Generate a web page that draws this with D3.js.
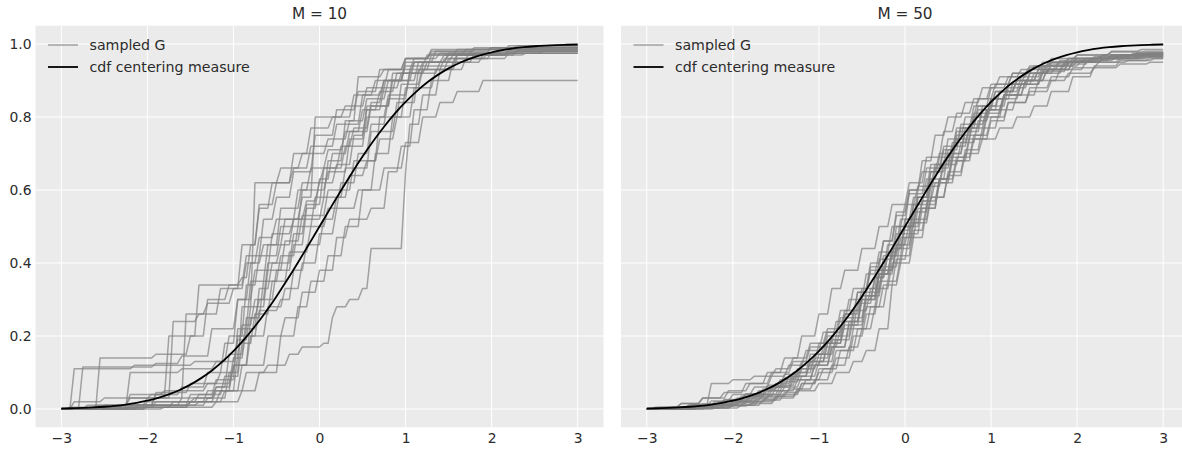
<!DOCTYPE html>
<html>
<head>
<meta charset="utf-8">
<script src="https://cdn.jsdelivr.net/npm/d3@7"></script>
<style>
  html, body { margin: 0; padding: 0; background: #ffffff; }
  svg { display: block; font-family: "DejaVu Sans", sans-serif; }
</style>
</head>
<body>
<svg id="chart" width="1182" height="450"></svg>
<script>
// ---------------- data ----------------
const panelTitles = ["M = 10", "M = 50"];
const xTicks = [-3, -2, -1, 0, 1, 2, 3];
const yTicks = [0.0, 0.2, 0.4, 0.6, 0.8, 1.0];
const legendLabels = ["sampled G", "cdf centering measure"];

// cdf of the centering measure (standard normal), read at x = -3 .. 3
const cdfX = [-3, -2.875, -2.75, -2.625, -2.5, -2.375, -2.25, -2.125, -2, -1.875, -1.75, -1.625, -1.5, -1.375, -1.25, -1.125,
  -1, -0.875, -0.75, -0.625, -0.5, -0.375, -0.25, -0.125, 0, 0.125, 0.25, 0.375, 0.5, 0.625, 0.75, 0.875,
  1, 1.125, 1.25, 1.375, 1.5, 1.625, 1.75, 1.875, 2, 2.125, 2.25, 2.375, 2.5, 2.625, 2.75, 2.875, 3];
const cdfY = [0.00135, 0.00202, 0.00298, 0.00433, 0.00621, 0.00877, 0.01222, 0.01679, 0.02275, 0.0304, 0.04006, 0.05208, 0.06681, 0.08459, 0.10565, 0.13029,
  0.15866, 0.19079, 0.22663, 0.26599, 0.30854, 0.35383, 0.40129, 0.45026, 0.5, 0.54974, 0.59871, 0.64617, 0.69146, 0.73401, 0.77337, 0.80921,
  0.84134, 0.86971, 0.89435, 0.91541, 0.93319, 0.94792, 0.95994, 0.9696, 0.97725, 0.98321, 0.98778, 0.99123, 0.99379, 0.99567, 0.99702, 0.99798, 0.99865];

// sampled G, M = 10 : [jump location, cumulative value after the jump]
const samplesM10 = [
  [[-2.88,0.11],[-2.15,0.12],[-1.45,0.13],[-1.05,0.2],[-0.85,0.34],[-0.7,0.42],[-0.45,0.5],[-0.2,0.6],[0.1,0.65],[0.35,0.74],[0.55,0.83],[0.85,0.92],[1.1,0.95],[1.45,0.97],[2.1,0.985],[2.5,0.99]],
  [[-2.78,0.115],[-1.9,0.125],[-1.6,0.145],[-1.25,0.22],[-0.95,0.3],[-0.78,0.38],[-0.55,0.48],[-0.3,0.52],[0.05,0.58],[0.3,0.66],[0.6,0.76],[0.9,0.84],[1.15,0.93],[1.5,0.96],[1.95,0.975],[2.6,0.98]],
  [[-2.58,0.14],[-1.9,0.15],[-1.5,0.2],[-1.3,0.3],[-1.05,0.34],[-0.85,0.42],[-0.65,0.52],[-0.5,0.58],[-0.3,0.65],[-0.05,0.75],[0.2,0.82],[0.45,0.87],[0.7,0.93],[1.0,0.96],[1.3,0.985],[2.0,0.99]],
  [[-2.9,0.005],[-2.22,0.1],[-1.6,0.11],[-1.2,0.13],[-0.95,0.19],[-0.8,0.28],[-0.62,0.38],[-0.4,0.46],[-0.2,0.53],[0.1,0.6],[0.4,0.68],[0.7,0.8],[0.95,0.89],[1.2,0.94],[1.6,0.97],[2.2,0.985]],
  [[-2.4,0.01],[-2.0,0.03],[-1.73,0.24],[-1.4,0.26],[-1.15,0.33],[-0.9,0.45],[-0.7,0.55],[-0.55,0.62],[-0.3,0.7],[-0.1,0.77],[0.15,0.8],[0.4,0.86],[0.65,0.9],[1.0,0.96],[1.3,0.98],[1.8,0.99],[2.3,0.995]],
  [[-2.6,0.01],[-2.2,0.03],[-1.58,0.26],[-1.3,0.29],[-1.0,0.33],[-0.85,0.4],[-0.65,0.45],[-0.45,0.55],[-0.2,0.62],[0.05,0.66],[0.3,0.72],[0.55,0.8],[0.8,0.86],[1.05,0.92],[1.4,0.95],[1.8,0.975],[2.4,0.985]],
  [[-2.5,0.01],[-1.9,0.04],[-1.75,0.2],[-1.42,0.34],[-0.93,0.36],[-0.8,0.45],[-0.7,0.56],[-0.5,0.62],[-0.3,0.66],[-0.1,0.72],[0.2,0.78],[0.5,0.86],[0.75,0.9],[1.1,0.95],[1.5,0.97],[2.2,0.98]],
  [[-2.0,0.01],[-1.4,0.02],[-1.1,0.05],[-0.85,0.1],[-0.6,0.12],[-0.35,0.15],[-0.2,0.17],[0.05,0.18],[0.12,0.25],[0.2,0.28],[0.35,0.3],[0.5,0.33],[0.59,0.44],[0.96,0.65],[1.05,0.78],[1.2,0.86],[1.4,0.93],[1.7,0.96],[2.2,0.975]],
  [[-2.3,0.01],[-1.5,0.04],[-1.2,0.08],[-0.95,0.22],[-0.8,0.35],[-0.6,0.45],[-0.4,0.52],[-0.2,0.58],[-0.05,0.8],[0.3,0.83],[0.55,0.88],[0.8,0.93],[1.1,0.96],[1.4,0.975],[2.0,0.99],[2.6,0.995]],
  [[-2.1,0.01],[-1.3,0.03],[-1.05,0.1],[-0.9,0.28],[-0.75,0.62],[-0.45,0.66],[-0.2,0.7],[0.1,0.74],[0.35,0.79],[0.55,0.85],[0.8,0.9],[1.0,0.94],[1.25,0.97],[1.6,0.985],[2.2,0.995]],
  [[-2.2,0.01],[-1.6,0.03],[-1.2,0.06],[-1.0,0.12],[-0.82,0.25],[-0.65,0.35],[-0.45,0.42],[-0.25,0.5],[-0.05,0.58],[0.1,0.68],[0.3,0.79],[0.43,0.91],[0.72,0.93],[1.0,0.96],[1.3,0.975],[1.8,0.985]],
  [[-2.0,0.005],[-1.5,0.02],[-1.2,0.05],[-0.98,0.15],[-0.85,0.25],[-0.7,0.3],[-0.5,0.38],[-0.3,0.45],[-0.15,0.55],[0.0,0.63],[0.15,0.7],[0.35,0.76],[0.6,0.83],[0.85,0.9],[1.15,0.95],[1.5,0.975],[2.1,0.99]],
  [[-2.4,0.005],[-1.7,0.02],[-1.3,0.05],[-1.0,0.12],[-0.8,0.2],[-0.6,0.28],[-0.4,0.33],[-0.2,0.4],[0.0,0.48],[0.2,0.55],[0.45,0.6],[0.75,0.66],[1.0,0.73],[1.2,0.8],[1.4,0.84],[1.6,0.87],[1.88,0.9]],
  [[-1.8,0.005],[-1.2,0.02],[-0.9,0.05],[-0.7,0.1],[-0.45,0.2],[-0.25,0.28],[-0.1,0.35],[0.1,0.42],[0.3,0.5],[0.5,0.6],[0.65,0.7],[0.85,0.8],[1.0,0.88],[1.2,0.93],[1.45,0.96],[1.75,0.975],[2.3,0.98]],
  [[-2.5,0.005],[-1.9,0.02],[-1.4,0.04],[-1.1,0.09],[-0.9,0.18],[-0.75,0.26],[-0.55,0.35],[-0.35,0.43],[-0.1,0.5],[0.1,0.55],[0.25,0.62],[0.45,0.7],[0.6,0.78],[0.8,0.85],[1.05,0.93],[1.3,0.97],[1.7,0.985],[2.5,0.99]],
  [[-2.2,0.005],[-1.5,0.02],[-1.15,0.05],[-0.9,0.12],[-0.6,0.2],[-0.4,0.25],[-0.2,0.32],[0.0,0.38],[0.2,0.47],[0.35,0.52],[0.6,0.55],[0.8,0.65],[0.95,0.72],[1.1,0.82],[1.3,0.9],[1.55,0.95],[1.9,0.97],[2.4,0.975]],
  [[-2.7,0.01],[-2.2,0.04],[-1.8,0.05],[-1.3,0.07],[-1.0,0.14],[-0.85,0.22],[-0.7,0.33],[-0.55,0.4],[-0.3,0.48],[-0.15,0.56],[0.05,0.66],[0.25,0.72],[0.4,0.77],[0.6,0.84],[0.75,0.9],[1.0,0.95],[1.35,0.98],[2.0,0.99]],
  [[-2.3,0.01],[-1.9,0.045],[-1.5,0.07],[-1.15,0.1],[-0.95,0.2],[-0.7,0.27],[-0.45,0.3],[-0.3,0.38],[-0.15,0.45],[0.05,0.52],[0.2,0.58],[0.35,0.64],[0.55,0.68],[0.7,0.74],[0.9,0.8],[1.1,0.88],[1.35,0.93],[1.6,0.96],[2.0,0.975]],
  [[-2.6,0.005],[-2.0,0.02],[-1.45,0.03],[-1.2,0.06],[-1.05,0.15],[-0.9,0.23],[-0.75,0.3],[-0.6,0.4],[-0.45,0.45],[-0.3,0.52],[-0.15,0.57],[0.0,0.62],[0.2,0.67],[0.4,0.75],[0.55,0.82],[0.75,0.88],[0.95,0.92],[1.2,0.95],[1.6,0.97],[2.1,0.98]],
  [[-2.85,0.02],[-2.5,0.03],[-1.95,0.04],[-1.6,0.06],[-1.3,0.1],[-1.1,0.18],[-0.95,0.3],[-0.82,0.4],[-0.7,0.47],[-0.5,0.52],[-0.25,0.6],[-0.1,0.66],[0.1,0.71],[0.3,0.76],[0.5,0.82],[0.7,0.87],[0.9,0.92],[1.25,0.95],[1.55,0.97],[2.3,0.98]]
];

// sampled G, M = 50 : [jump location, cumulative value after the jump]
const samplesM50 = [
  [[-2.75,.004],[-2.45,.012],[-2.2,.02],[-1.95,.03],[-1.7,.05],[-1.5,.07],[-1.3,.1],[-1.1,.15],[-0.9,.2],[-0.75,.25],[-0.55,.32],[-0.4,.38],[-0.2,.45],[-0.05,.52],[0.1,.58],[0.3,.65],[0.5,.71],[0.65,.77],[0.85,.82],[1.05,.87],[1.3,.9],[1.55,.93],[1.8,.95],[2.1,.96],[2.5,.97]],
  [[-2.5,.003],[-2.1,.008],[-1.8,.015],[-1.5,.03],[-1.25,.05],[-1.0,.07],[-0.8,.1],[-0.6,.13],[-0.45,.16],[-0.3,.22],[-0.15,.34],[-0.05,.4],[0.1,.47],[0.25,.55],[0.4,.63],[0.55,.7],[0.7,.76],[0.9,.82],[1.1,.87],[1.35,.91],[1.6,.94],[1.9,.96],[2.3,.97],[2.7,.975]],
  [[-2.85,.005],[-2.6,.015],[-2.35,.03],[-2.1,.045],[-1.85,.07],[-1.6,.1],[-1.4,.14],[-1.2,.2],[-1.0,.26],[-0.85,.33],[-0.7,.38],[-0.5,.44],[-0.3,.5],[-0.15,.56],[0.05,.62],[0.25,.69],[0.45,.76],[0.6,.81],[0.8,.85],[1.0,.89],[1.25,.92],[1.5,.94],[1.8,.955],[2.2,.965],[2.6,.97]],
  [[-2.7,.005],[-2.5,.012],[-2.28,.07],[-2.0,.08],[-1.75,.09],[-1.5,.11],[-1.3,.14],[-1.1,.18],[-0.9,.22],[-0.7,.27],[-0.5,.33],[-0.3,.41],[-0.1,.48],[0.1,.56],[0.3,.63],[0.5,.7],[0.7,.77],[0.9,.83],[1.1,.87],[1.3,.9],[1.6,.93],[1.9,.95],[2.3,.96],[2.8,.965]],
  [[-2.6,.004],[-2.3,.01],[-2.0,.02],[-1.75,.035],[-1.5,.06],[-1.3,.09],[-1.1,.13],[-0.9,.18],[-0.7,.24],[-0.5,.31],[-0.3,.38],[-0.1,.45],[0.1,.52],[0.3,.58],[0.5,.64],[0.7,.7],[0.9,.74],[1.1,.77],[1.3,.8],[1.5,.83],[1.7,.87],[1.95,.91],[2.2,.94],[2.5,.955],[2.85,.96]],
  [[-2.7,.003],[-2.4,.008],[-2.1,.015],[-1.8,.03],[-1.55,.05],[-1.3,.08],[-1.05,.12],[-0.85,.17],[-0.65,.24],[-0.45,.32],[-0.25,.42],[-0.1,.5],[0.05,.6],[0.2,.68],[0.35,.75],[0.5,.8],[0.7,.84],[0.9,.88],[1.1,.91],[1.35,.93],[1.6,.95],[1.9,.96],[2.3,.97],[2.7,.975]],
  [[-2.5,.005],[-2.25,.01],[-2.0,.02],[-1.8,.035],[-1.6,.05],[-1.4,.075],[-1.2,.11],[-1.0,.15],[-0.8,.2],[-0.6,.27],[-0.4,.33],[-0.25,.39],[-0.05,.47],[0.1,.54],[0.3,.61],[0.45,.67],[0.65,.73],[0.85,.79],[1.0,.83],[1.2,.88],[1.45,.92],[1.7,.95],[2.0,.97],[2.4,.98],[2.75,.985]],
  [[-2.4,.003],[-2.0,.01],[-1.7,.025],[-1.45,.04],[-1.2,.07],[-1.0,.1],[-0.8,.14],[-0.6,.2],[-0.45,.26],[-0.3,.33],[-0.15,.4],[0.0,.47],[0.15,.55],[0.3,.62],[0.45,.68],[0.6,.74],[0.8,.8],[1.0,.85],[1.2,.89],[1.4,.92],[1.65,.945],[1.95,.96],[2.4,.97],[2.8,.975]],
  [[-2.8,.004],[-2.5,.01],[-2.25,.022],[-2.0,.04],[-1.75,.06],[-1.55,.09],[-1.35,.12],[-1.15,.16],[-0.95,.21],[-0.75,.27],[-0.6,.33],[-0.4,.4],[-0.25,.46],[-0.1,.53],[0.05,.59],[0.25,.66],[0.45,.72],[0.65,.78],[0.85,.83],[1.05,.87],[1.3,.9],[1.55,.93],[1.85,.95],[2.2,.96],[2.6,.965]],
  [[-2.6,.005],[-2.3,.012],[-2.05,.025],[-1.8,.04],[-1.55,.06],[-1.35,.09],[-1.1,.13],[-0.9,.18],[-0.7,.23],[-0.5,.3],[-0.3,.37],[-0.15,.44],[0.0,.5],[0.2,.57],[0.4,.63],[0.6,.69],[0.8,.75],[1.0,.8],[1.2,.84],[1.45,.87],[1.7,.9],[1.9,.92],[2.2,.935],[2.5,.945],[2.85,.95]],
  [[-2.55,.004],[-2.2,.012],[-1.95,.022],[-1.7,.04],[-1.45,.065],[-1.25,.1],[-1.05,.14],[-0.85,.19],[-0.7,.24],[-0.5,.3],[-0.35,.36],[-0.2,.42],[-0.05,.49],[0.1,.56],[0.25,.63],[0.4,.69],[0.6,.75],[0.8,.8],[1.0,.85],[1.25,.89],[1.5,.92],[1.75,.94],[2.05,.955],[2.45,.965],[2.8,.97]],
  [[-2.3,.004],[-2.0,.01],[-1.75,.02],[-1.5,.035],[-1.25,.055],[-1.05,.08],[-0.85,.12],[-0.65,.17],[-0.5,.22],[-0.35,.28],[-0.2,.35],[-0.05,.42],[0.1,.49],[0.25,.56],[0.4,.63],[0.55,.69],[0.75,.75],[0.95,.81],[1.15,.86],[1.4,.9],[1.65,.93],[1.95,.95],[2.3,.96],[2.75,.97]],
  [[-2.75,.004],[-2.45,.01],[-2.15,.02],[-1.9,.035],[-1.65,.055],[-1.45,.08],[-1.25,.11],[-1.05,.15],[-0.85,.2],[-0.7,.26],[-0.55,.32],[-0.4,.39],[-0.25,.46],[-0.1,.54],[0.05,.6],[0.2,.65],[0.4,.7],[0.6,.76],[0.8,.81],[1.0,.85],[1.2,.89],[1.45,.92],[1.7,.94],[2.0,.955],[2.4,.965],[2.8,.97]],
  [[-2.65,.006],[-2.35,.014],[-2.1,.026],[-1.85,.042],[-1.6,.06],[-1.4,.085],[-1.2,.12],[-0.95,.17],[-0.75,.22],[-0.55,.29],[-0.35,.36],[-0.2,.43],[-0.05,.5],[0.15,.58],[0.35,.66],[0.55,.72],[0.75,.77],[0.95,.82],[1.15,.86],[1.35,.89],[1.6,.92],[1.85,.945],[2.15,.96],[2.55,.97],[2.9,.975]],
  [[-2.2,.003],[-1.9,.01],[-1.65,.025],[-1.4,.045],[-1.2,.07],[-1.0,.11],[-0.8,.16],[-0.6,.22],[-0.45,.28],[-0.3,.35],[-0.15,.42],[0.0,.5],[0.15,.58],[0.3,.65],[0.45,.71],[0.6,.77],[0.8,.83],[1.0,.88],[1.2,.91],[1.45,.935],[1.7,.95],[2.0,.96],[2.4,.97],[2.8,.975]],
  [[-2.9,.005],[-2.6,.015],[-2.35,.03],[-2.05,.05],[-1.8,.07],[-1.55,.1],[-1.3,.13],[-1.1,.17],[-0.9,.21],[-0.7,.26],[-0.5,.31],[-0.3,.37],[-0.1,.44],[0.1,.51],[0.3,.58],[0.5,.65],[0.7,.71],[0.9,.77],[1.1,.82],[1.3,.86],[1.55,.9],[1.8,.93],[2.1,.95],[2.5,.96],[2.85,.965]],
  [[-2.45,.005],[-2.15,.013],[-1.9,.025],[-1.65,.04],[-1.4,.06],[-1.2,.09],[-1.0,.13],[-0.8,.19],[-0.6,.25],[-0.45,.31],[-0.25,.38],[-0.1,.45],[0.05,.51],[0.2,.57],[0.35,.62],[0.55,.68],[0.75,.74],[0.95,.8],[1.15,.85],[1.35,.89],[1.6,.925],[1.9,.95],[2.25,.965],[2.65,.975]],
  [[-2.55,.003],[-2.25,.008],[-1.95,.018],[-1.7,.03],[-1.45,.05],[-1.25,.08],[-1.05,.12],[-0.85,.17],[-0.65,.23],[-0.45,.3],[-0.3,.37],[-0.15,.44],[0.0,.52],[0.15,.6],[0.3,.67],[0.5,.74],[0.7,.8],[0.85,.85],[1.05,.89],[1.25,.92],[1.45,.94],[1.7,.96],[2.0,.97],[2.4,.978],[2.8,.98]],
  [[-2.7,.005],[-2.4,.012],[-2.1,.024],[-1.85,.04],[-1.6,.065],[-1.4,.095],[-1.2,.13],[-1.0,.18],[-0.8,.24],[-0.65,.3],[-0.45,.37],[-0.3,.43],[-0.15,.5],[0.0,.56],[0.15,.61],[0.35,.67],[0.55,.73],[0.75,.78],[0.95,.82],[1.15,.86],[1.4,.9],[1.65,.93],[1.95,.95],[2.3,.96],[2.7,.965]],
  [[-2.4,.004],[-2.1,.01],[-1.85,.02],[-1.6,.035],[-1.35,.055],[-1.15,.08],[-0.95,.11],[-0.75,.16],[-0.55,.22],[-0.4,.28],[-0.25,.34],[-0.1,.41],[0.05,.48],[0.2,.55],[0.4,.62],[0.6,.68],[0.8,.74],[1.0,.79],[1.2,.84],[1.45,.88],[1.7,.91],[1.95,.935],[2.25,.95],[2.6,.955],[2.9,.96]]
];

const panelSamples = [samplesM10, samplesM50];

// ---------------- layout ----------------
const svg = d3.select("#chart");
const bg = "#ebebeb";
const textColor = "#2b2b2b";
const panelLefts = [35.5, 621];
const panelWidth = 568;
const plotTop = 25.75, plotBottom = 427.25;
const xDomain = [-3.3, 3.3];
// evaluation grid for drawing the step functions (like plotting G on a linspace)
const evalGrid = d3.range(0, 121).map(i => +(-3 + i * 0.05).toFixed(3));

const y = d3.scaleLinear().domain([-0.05, 1.05]).range([plotBottom, plotTop]);
const bis = d3.bisector(d => d[0]).right;

panelSamples.forEach((samples, p) => {
  const x = d3.scaleLinear().domain(xDomain).range([panelLefts[p], panelLefts[p] + panelWidth]);
  const g = svg.append("g");

  g.append("rect")
    .attr("x", x(xDomain[0])).attr("y", y(1.05))
    .attr("width", x(xDomain[1]) - x(xDomain[0]))
    .attr("height", y(-0.05) - y(1.05))
    .attr("fill", bg);

  g.selectAll(".gx").data(xTicks).join("line")
    .attr("x1", d => x(d)).attr("x2", d => x(d))
    .attr("y1", y(1.05)).attr("y2", y(-0.05))
    .attr("stroke", "#ffffff").attr("stroke-width", 1);
  g.selectAll(".gy").data(yTicks).join("line")
    .attr("x1", x(xDomain[0])).attr("x2", x(xDomain[1]))
    .attr("y1", d => y(d)).attr("y2", d => y(d))
    .attr("stroke", "#ffffff").attr("stroke-width", 1);

  const xAxis = d3.axisBottom(x).tickValues(xTicks).tickSize(0).tickPadding(0)
    .tickFormat(d => d3.format("d")(d).replace("-", "\u2212"));
  const xa = g.append("g").attr("transform", `translate(0,${y(-0.05)})`).call(xAxis);
  xa.select(".domain").remove();
  xa.selectAll("text").attr("font-size", "13.9px").attr("fill", textColor)
    .attr("font-family", "DejaVu Sans").attr("dy", "0").attr("y", 15.5);

  if (p === 0) {
    const yAxis = d3.axisLeft(y).tickValues(yTicks).tickSize(0).tickPadding(4)
      .tickFormat(d3.format(".1f"));
    const ya = g.append("g").attr("transform", `translate(${x(xDomain[0])},0)`).call(yAxis);
    ya.select(".domain").remove();
    ya.selectAll("text").attr("font-size", "13.9px").attr("fill", textColor)
      .attr("font-family", "DejaVu Sans");
  }

  const gLine = d3.line().x(d => x(d[0])).y(d => y(d[1]));
  samples.forEach(s => {
    const pts = evalGrid.map(xv => {
      const k = bis(s, xv + 1e-9);
      return [xv, k === 0 ? 0 : s[k - 1][1]];
    });
    g.append("path").attr("d", gLine(pts))
      .attr("fill", "none").attr("stroke", "#808080")
      .attr("stroke-opacity", 0.7).attr("stroke-width", 1.5)
      .attr("stroke-linejoin", "round");
  });

  const cdfLine = d3.line().x(d => x(d[0])).y(d => y(d[1])).curve(d3.curveMonotoneX);
  g.append("path").attr("d", cdfLine(cdfX.map((v, i) => [v, cdfY[i]])))
    .attr("fill", "none").attr("stroke", "#000000").attr("stroke-width", 1.8);

  g.append("text")
    .attr("x", (x(xDomain[0]) + x(xDomain[1])) / 2).attr("y", 18.5)
    .attr("text-anchor", "middle").attr("font-size", "15.3px")
    .attr("fill", textColor).text(panelTitles[p]);

  const lx = panelLefts[p] + 12.5;
  const legendStyles = [
    { stroke: "#808080", opacity: 0.7, width: 1.5 },
    { stroke: "#000000", opacity: 1, width: 1.8 }
  ];
  legendLabels.forEach((lab, i) => {
    const ly = 45 + i * 22;
    g.append("line").attr("x1", lx).attr("x2", lx + 30).attr("y1", ly).attr("y2", ly)
      .attr("stroke", legendStyles[i].stroke).attr("stroke-opacity", legendStyles[i].opacity)
      .attr("stroke-width", legendStyles[i].width);
    g.append("text").attr("x", lx + 41.5).attr("y", ly + 5)
      .attr("font-size", "14.2px").attr("fill", textColor).text(lab);
  });
});
</script>
</body>
</html>
